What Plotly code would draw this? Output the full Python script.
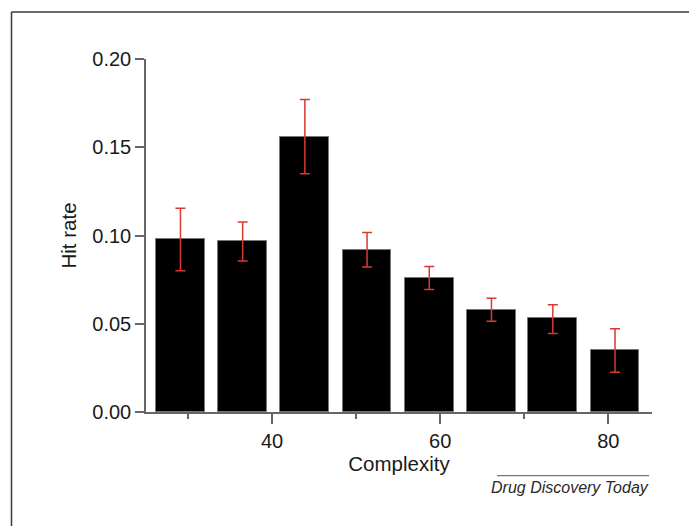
import plotly.graph_objects as go

# ---- data ----
complexity = [29.1, 36.5, 43.9, 51.3, 58.7, 66.1, 73.4, 80.8]
hit_rate = [0.098, 0.097, 0.156, 0.092, 0.076, 0.058, 0.053, 0.035]
err_plus = [0.0175, 0.0106, 0.021, 0.0097, 0.0065, 0.0064, 0.0078, 0.0122]
err_minus = [0.018, 0.0115, 0.021, 0.0098, 0.0066, 0.0066, 0.0085, 0.0125]
bar_width = 5.8
x_ticks = [40, 60, 80]
y_ticks = [0.00, 0.05, 0.10, 0.15, 0.20]
y_tick_labels = ["0.00", "0.05", "0.10", "0.15", "0.20"]

# ---- layout constants (pixels) ----
W, H = 689, 526
ML, MR, MT, MB = 146, 37, 59, 114
PW, PH = W - ML - MR, H - MT - MB


def px_x(px):
    return (px - ML) / PW


def px_y(py):
    return (H - MB - py) / PH


FONT = "Liberation Sans, Arial, Helvetica, sans-serif"

fig = go.Figure()
fig.add_trace(go.Bar(
    x=complexity,
    y=hit_rate,
    width=bar_width,
    marker=dict(color="black", line=dict(color="#777777", width=1)),
    error_y=dict(type="data", symmetric=False, array=err_plus, arrayminus=err_minus,
                 color="#d83a30", thickness=1.5, width=5),
    showlegend=False,
))

axis_color = "#666666"
fig.update_layout(
    width=W, height=H,
    margin=dict(l=ML, r=MR, t=MT, b=MB, autoexpand=False),
    paper_bgcolor="white", plot_bgcolor="white",
    font=dict(family=FONT, color="#1a1a1a"),
    xaxis=dict(
        range=[25, 85.2], showgrid=False, zeroline=False,
        showline=True, linecolor=axis_color, linewidth=1.5,
        ticks="outside", ticklen=10, tickwidth=1.5, tickcolor=axis_color,
        tickvals=x_ticks, tickfont=dict(size=20),
        minor=dict(ticks="outside", ticklen=5, tickwidth=1.5, tickcolor=axis_color,
                   dtick=10, tick0=0, showgrid=False),
        title=dict(text="Complexity", font=dict(size=20.5), standoff=5),
    ),
    yaxis=dict(
        range=[0, 0.2], showgrid=False, zeroline=False,
        showline=True, linecolor=axis_color, linewidth=1.5,
        ticks="outside", ticklen=9, tickwidth=1.5, tickcolor=axis_color,
        tickvals=y_ticks, ticktext=y_tick_labels, tickfont=dict(size=20),
        title=dict(text="Hit rate", font=dict(size=20.5), standoff=10),
    ),
    bargap=0,
)

# image border (top and left)
border = "#3a3a3a"
fig.add_shape(type="line", xref="paper", yref="paper",
              x0=px_x(11.5), x1=px_x(W + 2), y0=px_y(12), y1=px_y(12),
              line=dict(color=border, width=1.5))
fig.add_shape(type="line", xref="paper", yref="paper",
              x0=px_x(11.5), x1=px_x(11.5), y0=px_y(12), y1=px_y(H + 2),
              line=dict(color=border, width=1.5))

# journal credit
fig.add_shape(type="line", xref="paper", yref="paper",
              x0=px_x(497), x1=px_x(649), y0=px_y(475.7), y1=px_y(475.7),
              line=dict(color="#555555", width=1))
fig.add_annotation(text="<i>Drug Discovery Today</i>", xref="paper", yref="paper",
                   x=px_x(651), y=px_y(487.5), xanchor="right", yanchor="middle",
                   showarrow=False, font=dict(size=16, color="#2a2a2a", family=FONT))

fig.write_html("out.html", config={"displayModeBar": False},
               post_script="document.body.style.margin='0px';")
